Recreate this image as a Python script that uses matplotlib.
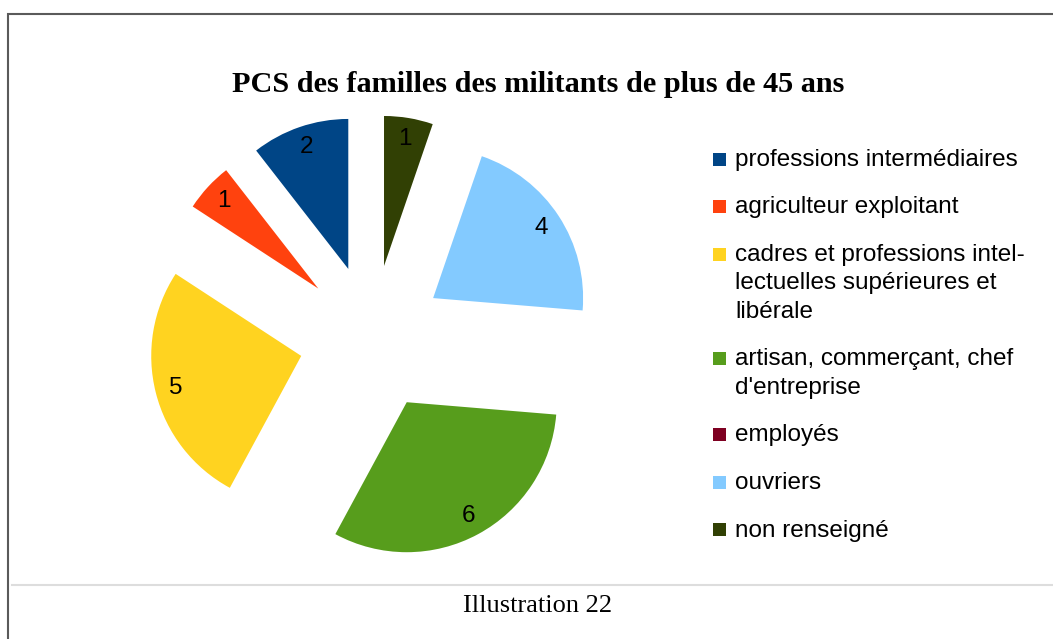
import matplotlib.pyplot as plt
from matplotlib.patches import Rectangle

categories = ['professions intermédiaires', 'agriculteur exploitant',
              'cadres et professions intel-\nlectuelles supérieures et\nlibérale',
              'artisan, commerçant, chef\nd\'entreprise', 'employés', 'ouvriers',
              'non renseigné']
values = [2, 1, 5, 6, 0, 4, 1]
colors = ['#004586', '#ff420e', '#ffd320', '#579d1c', '#7e0021', '#83caff', '#314004']

W, H = 1053, 639
sans = 'Liberation Sans'
serif = 'Liberation Serif'

fig = plt.figure(figsize=(W / 100, H / 100), dpi=100)
ax = fig.add_axes([0, 0, 1, 1])

total = sum(values)
def _lbl(p):
    v = int(round(p * total / 100.0))
    return str(v) if v > 0 else ''

# explode is in data units here (pixels)
wedges, texts, autotexts = ax.pie(values, colors=colors, startangle=90, counterclock=True,
                                  center=(372, H - 338), radius=150,
                                  explode=[73] * len(values),
                                  autopct=_lbl, pctdistance=0.86,
                                  wedgeprops=dict(linewidth=0),
                                  textprops=dict(fontsize=17.5, family=sans, color='black'))

ax.set_xlim(0, W)
ax.set_ylim(0, H)
ax.set_aspect('auto')
ax.axis('off')

# title and caption
ax.text(538, H - 84, 'PCS des familles des militants de plus de 45 ans', ha='center', va='center',
        fontsize=21.8, fontweight='bold', family=serif)
ax.text(538, H - 606, 'Illustration 22', ha='center', va='center', fontsize=19, family=serif)

# frame
ax.plot([7.5, 7.5, W], [0, H - 13.5, H - 13.5], color='#5a5a5a', lw=1.5, solid_joinstyle='miter')
ax.plot([12, W], [H - 585, H - 585], color='#dddddd', lw=1.5)

# legend
y = 159
for cat, col in zip(categories, colors):
    ax.add_patch(Rectangle((713, H - y - 6.5), 13, 13, color=col, lw=0))
    lines = cat.split('\n')
    for i, line in enumerate(lines):
        ax.text(735, H - y - 1, line, ha='left', va='center', fontsize=17.5, family=sans)
        if i < len(lines) - 1:
            y += 28.5
    y += 47.5

fig.savefig('out.png', dpi=100)
